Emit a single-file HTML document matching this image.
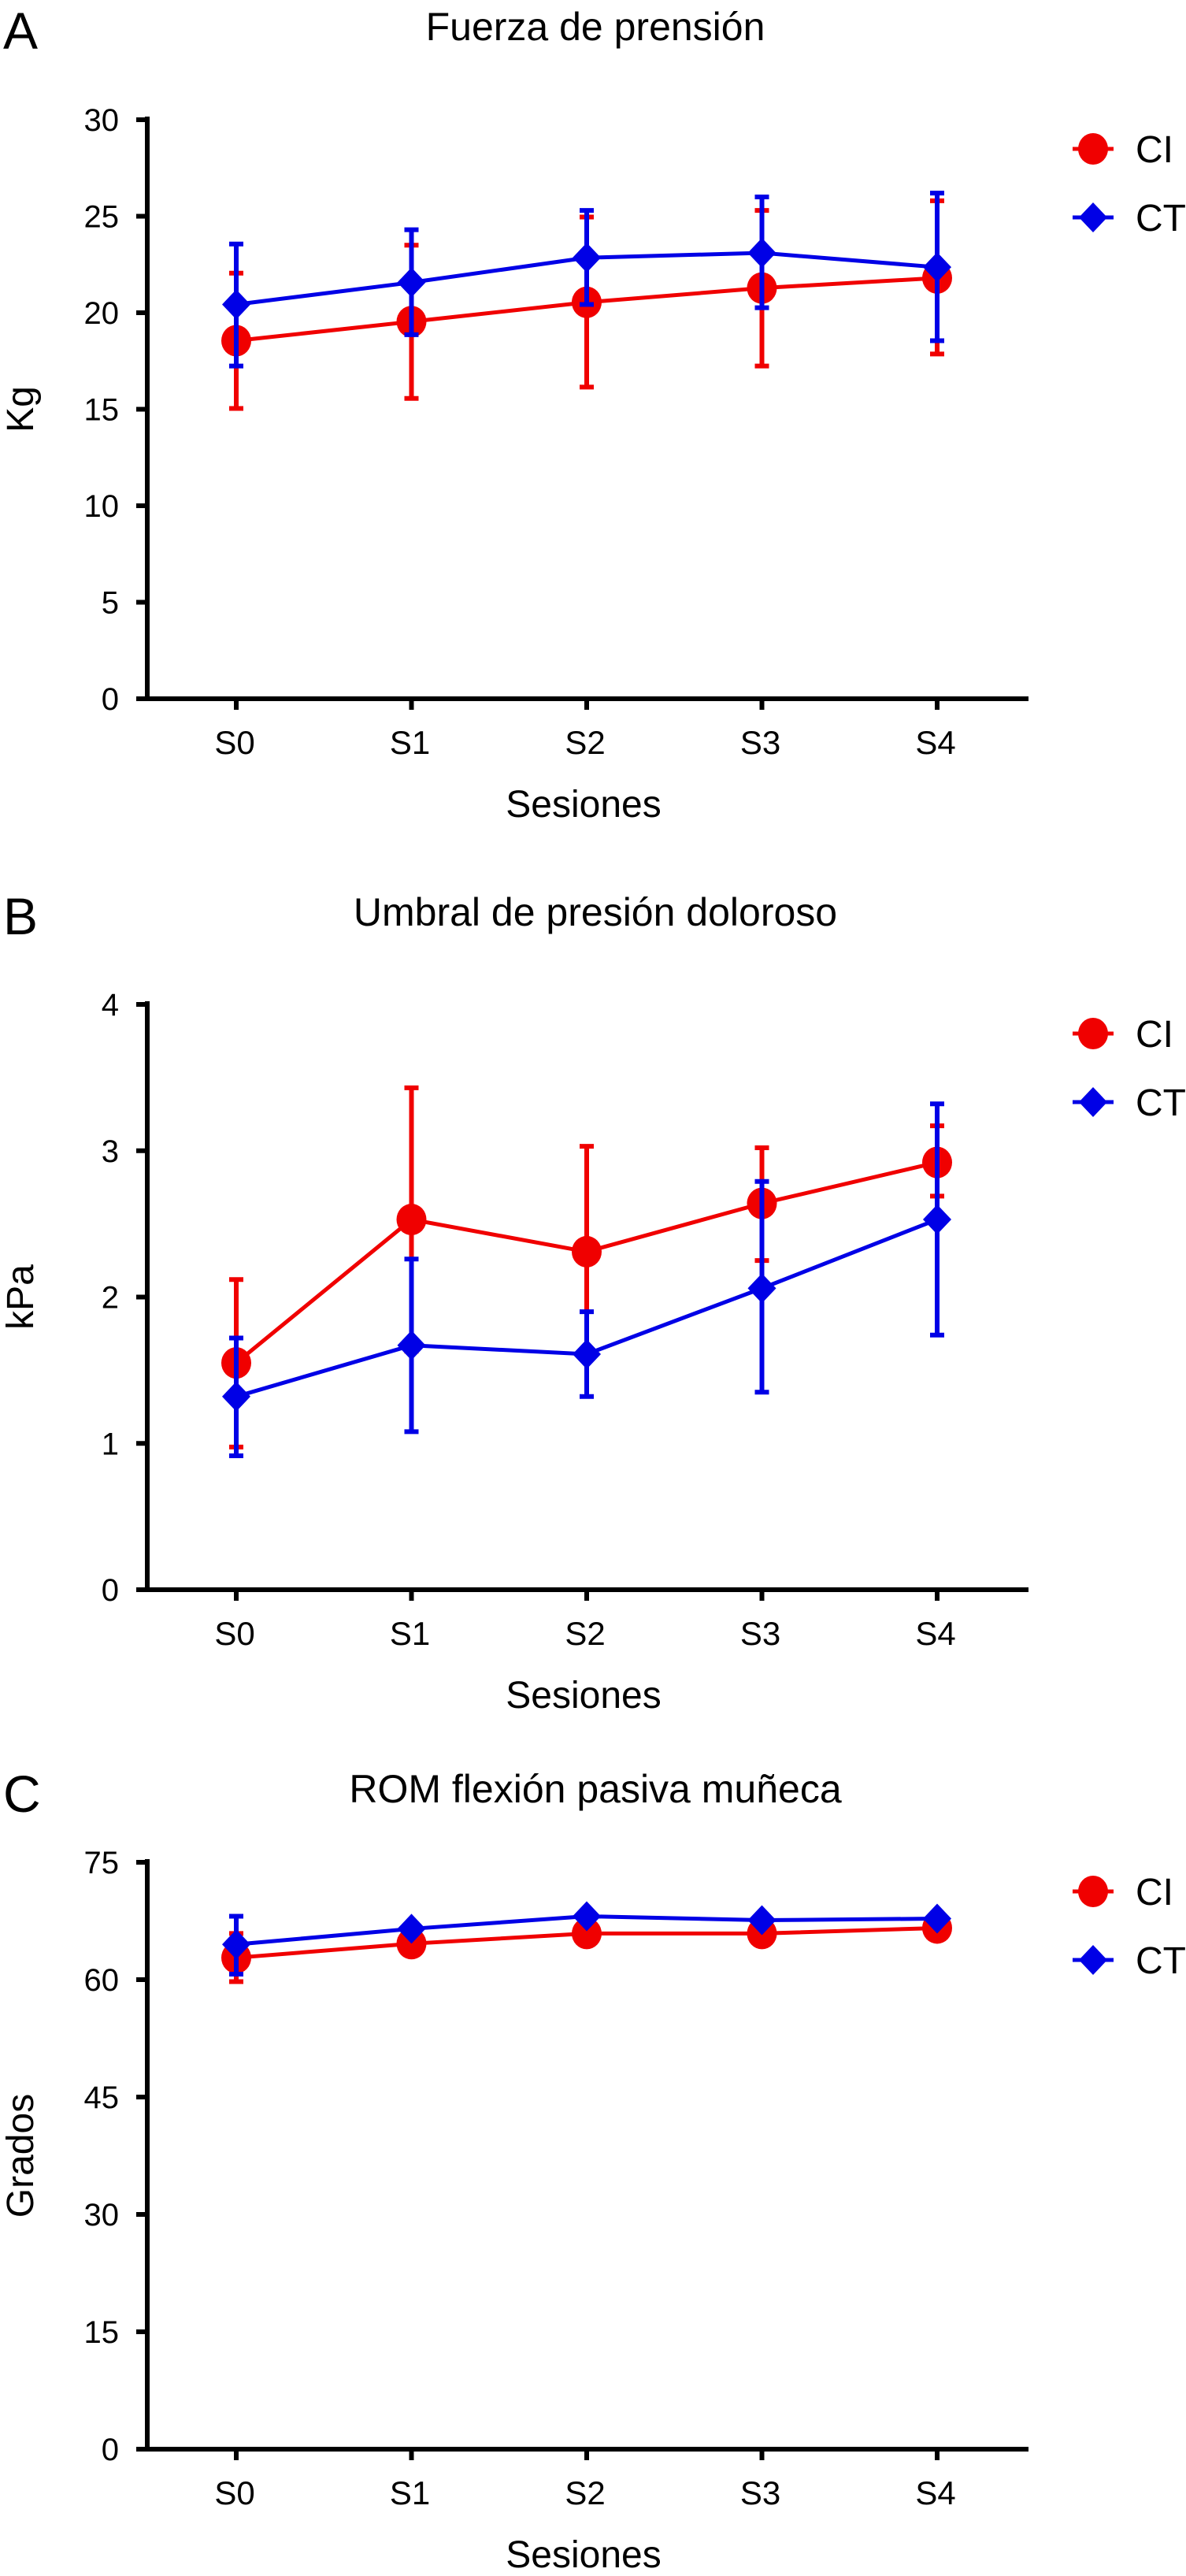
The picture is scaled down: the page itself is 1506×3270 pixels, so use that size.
<!DOCTYPE html>
<html><head><meta charset="utf-8"><style>
html,body{margin:0;padding:0;background:#fff;}
svg{display:block;font-family:"Liberation Sans",Arial,sans-serif;}
</style></head><body>
<svg id="fig" width="1506" height="3270" viewBox="0 0 1506 3270"></svg>
<script>
const categories = ["S0","S1","S2","S3","S4"];
// Panel A: Fuerza de prensión (Kg)
const aTicks = [0,5,10,15,20,25,30];
const aCI = [18.55,19.54,20.54,21.28,21.8];
const aCIHi = [22.05,23.5,24.96,25.3,25.8];
const aCILo = [15.04,15.56,16.15,17.24,17.86];
const aCT = [20.43,21.57,22.85,23.1,22.36];
const aCTHi = [23.56,24.3,25.3,26.0,26.2];
const aCTLo = [17.24,18.86,20.43,20.26,18.55];
// Panel B: Umbral de presión doloroso (kPa)
const bTicks = [0,1,2,3,4];
const bCI = [1.55,2.53,2.31,2.64,2.92];
const bCIHi = [2.12,3.43,3.03,3.02,3.17];
const bCILo = [0.975,1.63,1.59,2.25,2.69];
const bCT = [1.32,1.67,1.61,2.06,2.53];
const bCTHi = [1.72,2.26,1.90,2.79,3.32];
const bCTLo = [0.915,1.08,1.32,1.35,1.74];
// Panel C: ROM flexión pasiva muñeca (Grados)
const cTicks = [0,15,30,45,60,75];
const cCI = [62.8,64.6,65.9,65.9,66.6];
const cCIHi = [65.9,64.6,65.9,65.9,66.6];
const cCILo = [59.75,64.6,65.9,65.9,66.6];
const cCT = [64.5,66.5,68.1,67.6,67.8];
const cCTHi = [68.1,66.5,68.1,67.6,67.8];
const cCTLo = [60.7,66.5,68.1,67.6,67.8];

const NS = "http://www.w3.org/2000/svg";
const svg = document.getElementById("fig");
function el(tag, attrs, parent, text){
  const e = document.createElementNS(NS, tag);
  for (const k in attrs) e.setAttribute(k, attrs[k]);
  if (text !== undefined) e.textContent = text;
  (parent||svg).appendChild(e);
  return e;
}
const RED = "#f00000", BLUE = "#0000e6";

function panel(p){
  const g = el("g", {});
  
  
  const x0 = 187, x1 = 1306, xs0 = 300, xs4 = 1190;
  const ymax = p.ticks[p.ticks.length-1];
  const X = i => xs0 + i*(xs4-xs0)/(categories.length-1);
  const Y = v => p.bottom - (v/ymax)*(p.bottom-p.top);
  const L = el("text", {x:4, y:p.letterY, "font-size":66}, g, p.letter);
  
  
  const T = el("text", {x:756, y:p.titleY, "font-size":50, "text-anchor":"middle"}, g, p.title);
  
  
  const ya = el("line", {x1:x0, y1:p.top-4, x2:x0, y2:p.bottom+3, stroke:"#000", "stroke-width":6}, g);
  
  
  const xa = el("line", {x1:x0-13, y1:p.bottom, x2:x1, y2:p.bottom, stroke:"#000", "stroke-width":6}, g);
  
  
  p.ticks.forEach(t => {
    const y = Y(t);
    const tk = el("line", {x1:x0-14, y1:y, x2:x0, y2:y, stroke:"#000", "stroke-width":6}, g);
    
    
    const tl = el("text", {x:151, y:y+14, "font-size":40, "text-anchor":"end"}, g, String(t));
    
    
  });
  categories.forEach((c,i) => {
    const tk = el("line", {x1:X(i), y1:p.bottom, x2:X(i), y2:p.bottom+14, stroke:"#000", "stroke-width":6}, g);
    
    
    const tl = el("text", {x:X(i)-2, y:p.bottom+70, "font-size":42, "text-anchor":"middle"}, g, c);
    
    
  });
  const xt = el("text", {x:741, y:p.bottom+150, "font-size":48, "text-anchor":"middle"}, g, "Sesiones");
  
  
  const ymid = (p.top+p.bottom)/2;
  const yt = el("text", {x:0, y:0, "font-size":48, "text-anchor":"middle", transform:`translate(42,${ymid}) rotate(-90)`}, g, p.ylabel);
  
  

  function series(vals, hi, lo, color, shape, nm){
    const sg = el("g", {}, g);
    
    
    vals.forEach((v,i) => {
      if (hi[i] > v + 1e-9) {
        const e1 = el("line", {x1:X(i), y1:Y(v), x2:X(i), y2:Y(hi[i]), stroke:color, "stroke-width":6}, sg);
        
        
        const c1 = el("line", {x1:X(i)-9, y1:Y(hi[i]), x2:X(i)+9, y2:Y(hi[i]), stroke:color, "stroke-width":6}, sg);
        
        
      }
      if (lo[i] < v - 1e-9) {
        const e2 = el("line", {x1:X(i), y1:Y(v), x2:X(i), y2:Y(lo[i]), stroke:color, "stroke-width":6}, sg);
        
        
        const c2 = el("line", {x1:X(i)-9, y1:Y(lo[i]), x2:X(i)+9, y2:Y(lo[i]), stroke:color, "stroke-width":6}, sg);
        
        
      }
    });
    const pts = vals.map((v,i) => X(i)+","+Y(v)).join(" ");
    const ln = el("polyline", {points:pts, fill:"none", stroke:color, "stroke-width":5}, sg);
    
    
    vals.forEach((v,i) => {
      let m;
      if (shape === "circle") m = el("ellipse", {cx:X(i), cy:Y(v), rx:19, ry:20, fill:color}, sg);
      else { const x=X(i), y=Y(v); m = el("polygon", {points:`${x},${y-19} ${x+18},${y} ${x},${y+19} ${x-18},${y}`, fill:color}, sg); }
      
      
    });
  }
  series(p.ci, p.ciHi, p.ciLo, RED, "circle", "ci");
  series(p.ct, p.ctHi, p.ctLo, BLUE, "diamond", "ct");

  const lg = el("g", {}, g);
  
  
  const ly1 = p.top+37, ly2 = p.top+124;
  const e1 = el("g", {}, lg);
  
  
  el("line", {x1:1362, y1:ly1, x2:1414, y2:ly1, stroke:RED, "stroke-width":5}, e1);
  el("ellipse", {cx:1388, cy:ly1, rx:19, ry:20, fill:RED}, e1);
  el("text", {x:1442, y:ly1+17, "font-size":48}, e1, "CI");
  const e2 = el("g", {}, lg);
  
  
  el("line", {x1:1362, y1:ly2, x2:1414, y2:ly2, stroke:BLUE, "stroke-width":5}, e2);
  el("polygon", {points:`1388,${ly2-19} 1406,${ly2} 1388,${ly2+19} 1370,${ly2}`, fill:BLUE}, e2);
  el("text", {x:1442, y:ly2+17, "font-size":48}, e2, "CT");
}

panel({name:"panel-a-chart", letter:"A", title:"Fuerza de prensión", ylabel:"Kg", top:152, bottom:887, titleY:51, letterY:62,
  ticks:aTicks, ci:aCI, ciHi:aCIHi, ciLo:aCILo, ct:aCT, ctHi:aCTHi, ctLo:aCTLo});
panel({name:"panel-b-chart", letter:"B", title:"Umbral de presión doloroso", ylabel:"kPa", top:1275, bottom:2018, titleY:1175, letterY:1186,
  ticks:bTicks, ci:bCI, ciHi:bCIHi, ciLo:bCILo, ct:bCT, ctHi:bCTHi, ctLo:bCTLo});
panel({name:"panel-c-chart", letter:"C", title:"ROM flexión pasiva muñeca", ylabel:"Grados", top:2364, bottom:3109, titleY:2288, letterY:2300,
  ticks:cTicks, ci:cCI, ciHi:cCIHi, ciLo:cCILo, ct:cCT, ctHi:cCTHi, ctLo:cCTLo});
</script>
</body></html>
